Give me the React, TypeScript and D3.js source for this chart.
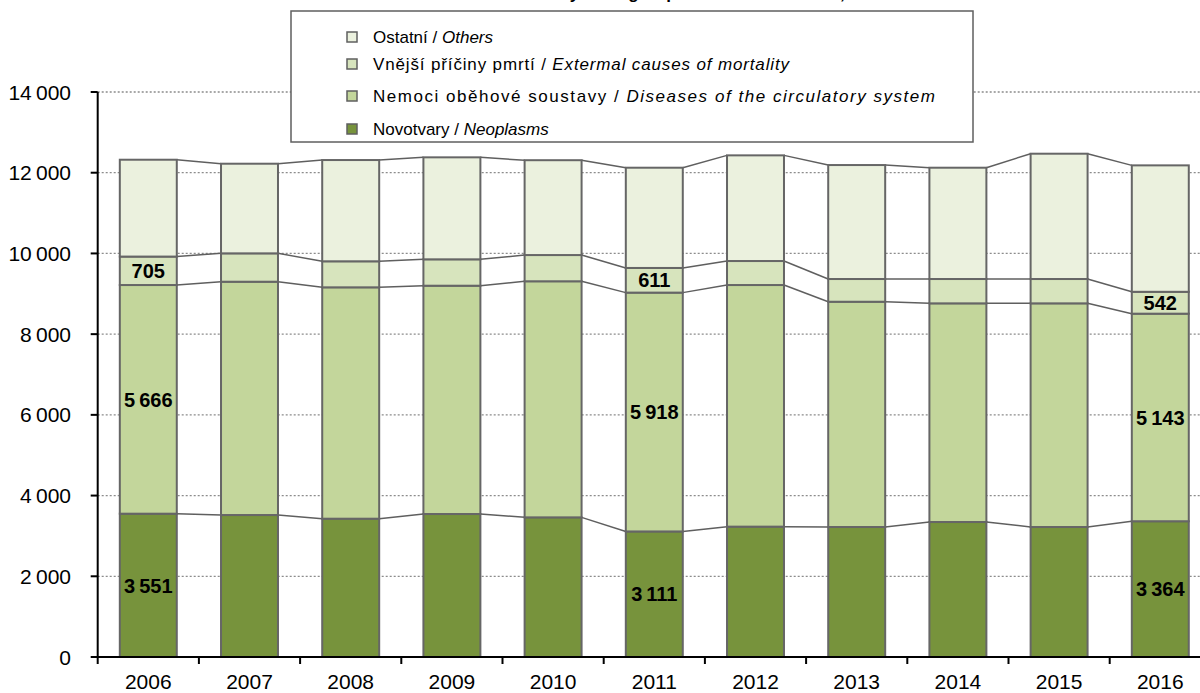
import React from 'react';
import * as d3 from 'd3';

const years = ['2006', '2007', '2008', '2009', '2010', '2011', '2012', '2013', '2014', '2015', '2016'];
const neoplasms = [3551, 3518, 3427, 3543, 3460, 3111, 3230, 3221, 3345, 3221, 3364];
const circulatory = [5666, 5781, 5733, 5657, 5850, 5918, 5987, 5582, 5418, 5542, 5143];
const external = [705, 703, 645, 654, 650, 611, 595, 563, 603, 603, 542];
const others = [2400, 2221, 2509, 2527, 2350, 2484, 2618, 2824, 2758, 3105, 3133];
const yTicks = [0, 2000, 4000, 6000, 8000, 10000, 12000, 14000];
const labelledYears = ['2006', '2011', '2016'];
const titleText = 'Zemřelí v letech 2006–2016 / Deaths by main groups of causes of death, 2006–2016';

const seriesKeys = ['neo', 'circ', 'ext', 'oth'];
const seriesColors: Record<string, string> = {
  neo: '#77933C',
  circ: '#C3D69B',
  ext: '#D7E4BD',
  oth: '#EBF1DE',
};
const legendItems = [
  { key: 'oth', cz: 'Ostatní / ', en: 'Others' },
  { key: 'ext', cz: 'Vnější příčiny pmrtí / ', en: 'Extermal causes of mortality' },
  { key: 'circ', cz: 'Nemoci oběhové soustavy / ', en: 'Diseases of the circulatory system' },
  { key: 'neo', cz: 'Novotvary / ', en: 'Neoplasms' },
];
const legendWidths = [0, 416, 562, 0];
const legendRowY = [37, 64, 96, 129];

const fmt = (v: number) => d3.format(',')(v).replace(/,/g, '\u2009');

export default function App() {
  const left = 97.7;
  const right = 1210.9;
  const x = d3.scaleBand<string>().domain(years).range([left, right]).paddingInner(0.437).paddingOuter(0.2185);
  const y = d3.scaleLinear().domain([0, 14000]).range([657, 92]);
  const bw = x.bandwidth();
  const step = x.step();

  const table = years.map((yr, i) => ({
    year: yr,
    neo: neoplasms[i],
    circ: circulatory[i],
    ext: external[i],
    oth: others[i],
  }));
  const stacked = d3.stack<any>().keys(seriesKeys)(table);

  const font = '"Liberation Sans", Arial, sans-serif';

  return (
    <svg width={1200} height={693} style={{ position: 'absolute', left: 0, top: 0, fontFamily: font }}>
      <rect x={0} y={0} width={1200} height={693} fill="#ffffff" />
      <text x={600} y={-1} textAnchor="middle" fontSize={17} fontWeight="bold">
        {titleText}
      </text>
      {/* gridlines */}
      {yTicks.filter((t) => t > 0).map((t) => (
        <line key={'g' + t} x1={left} x2={1200} y1={y(t)} y2={y(t)} stroke="#8c8c8c" strokeWidth={1.3} strokeDasharray="2,2" />
      ))}
      {/* connectors */}
      {stacked.map((s) =>
        years.slice(0, -1).map((yr, i) => (
          <line
            key={'c' + s.key + yr}
            x1={(x(yr) as number) + bw}
            y1={y(s[i][1])}
            x2={x(years[i + 1]) as number}
            y2={y(s[i + 1][1])}
            stroke="#5f5f5f"
            strokeWidth={1.5}
          />
        ))
      )}
      {/* bars */}
      {stacked.map((s) =>
        s.map((d, i) => (
          <rect
            key={'b' + s.key + i}
            x={x(years[i]) as number}
            y={y(d[1])}
            width={bw}
            height={y(d[0]) - y(d[1])}
            fill={seriesColors[s.key]}
            stroke="#666666"
            strokeWidth={2}
          />
        ))
      )}
      {/* labels */}
      {stacked
        .filter((s) => s.key !== 'oth')
        .map((s) =>
          s.map((d, i) =>
            labelledYears.includes(years[i]) ? (
              <text
                key={'l' + s.key + i}
                x={(x(years[i]) as number) + bw / 2}
                y={(y(d[0]) + y(d[1])) / 2}
                dy="0.36em"
                textAnchor="middle"
                fontSize={20}
                fontWeight="bold"
                fill="#000"
              >
                {fmt(d[1] - d[0])}
              </text>
            ) : null
          )
        )}
      {/* y axis */}
      <line x1={left} x2={left} y1={y(14000)} y2={y(0) + 7} stroke="#000" strokeWidth={2} />
      {yTicks.map((t) => (
        <g key={'yt' + t}>
          <line x1={left - 7} x2={left} y1={y(t)} y2={y(t)} stroke="#000" strokeWidth={2} />
          <text x={71} y={y(t)} dy="0.36em" textAnchor="end" fontSize={21} fill="#000">
            {fmt(t)}
          </text>
        </g>
      ))}
      {/* x axis */}
      <line x1={left} x2={1200} y1={y(0)} y2={y(0)} stroke="#000" strokeWidth={2} />
      {years.map((yr, i) => (
        <g key={'xt' + yr}>
          <line x1={left + (i + 1) * step} x2={left + (i + 1) * step} y1={y(0)} y2={y(0) + 7} stroke="#000" strokeWidth={2} />
          <text x={(x(yr) as number) + bw / 2} y={689} textAnchor="middle" fontSize={21} fill="#000">
            {yr}
          </text>
        </g>
      ))}
      {/* legend */}
      <rect x={291} y={11} width={682} height={131} fill="#ffffff" stroke="#5f5f5f" strokeWidth={1.5} />
      {legendItems.map((it, i) => {
        const cy = legendRowY[i];
        const tl = legendWidths[i];
        return (
          <g key={'lg' + it.key}>
            <rect x={347} y={cy - 5} width={10} height={10} fill={seriesColors[it.key]} stroke="#5f5f5f" strokeWidth={1.5} />
            <text
              x={373}
              y={cy}
              dy="0.36em"
              fontSize={17}
              fill="#000"
              textLength={tl > 0 ? tl : undefined}
              lengthAdjust={tl > 0 ? 'spacing' : undefined}
            >
              {it.cz}
              <tspan fontStyle="italic">{it.en}</tspan>
            </text>
          </g>
        );
      })}
    </svg>
  );
}
